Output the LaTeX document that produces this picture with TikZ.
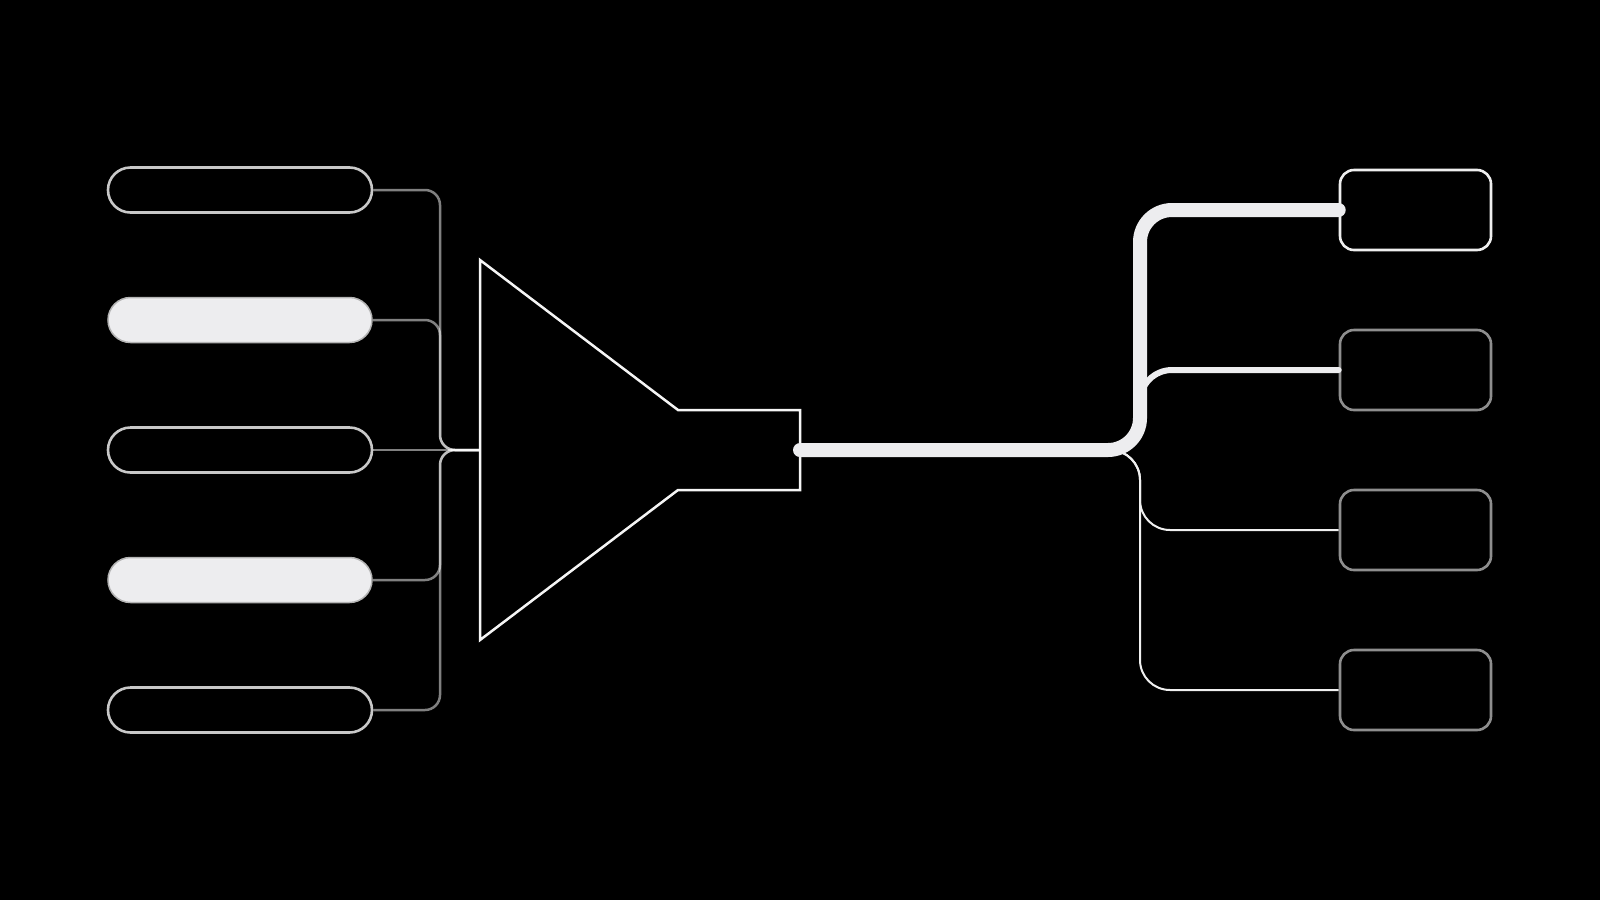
\documentclass[tikz,border=0pt]{standalone}
\definecolor{pillline}{HTML}{C8C8C8}
\definecolor{pillfill}{HTML}{EDEDEF}
\definecolor{pillfillline}{HTML}{B4B4B4}
\definecolor{thickc}{HTML}{EDEDEF}
\definecolor{boxgray}{HTML}{8E8E8E}
\definecolor{boxlight}{HTML}{EEEEEE}
\begin{document}
\begin{tikzpicture}[x=1pt,y=-1pt,
  pill/.style={draw=pillline,line width=2.6pt,rounded corners=22.5pt,minimum width=264pt,minimum height=45pt,inner sep=0pt},
  pillon/.style={pill,draw=pillfillline,line width=1.5pt,fill=pillfill},
  outbox/.style={draw=boxgray,line width=2.6pt,rounded corners=14pt,minimum width=151pt,minimum height=80pt,inner sep=0pt},
  outboxon/.style={outbox,draw=boxlight},
  conn/.style={draw=white,draw opacity=0.5,line width=2.5pt,rounded corners=15pt},
  funnelline/.style={draw=white!96!black,line width=2.5pt,line join=miter},
  mainflow/.style={draw=thickc,line width=14pt,line cap=round,rounded corners=32pt},
  midflow/.style={draw=thickc,line width=6pt,line cap=round,rounded corners=32pt},
  thinflow/.style={draw=white!94!black,line width=2pt,rounded corners=30pt}
]
\useasboundingbox (0,0) rectangle (1600,900);
\fill[black] (0,0) rectangle (1600,900);

% inputs
\node[pill]   (p1) at (240,190) {};
\node[pillon] (p2) at (240,320) {};
\node[pill]   (p3) at (240,450) {};
\node[pillon] (p4) at (240,580) {};
\node[pill]   (p5) at (240,710) {};

% outputs
\node[outboxon] (b1) at (1415.5,210) {};
\node[outbox]   (b2) at (1415.5,370) {};
\node[outbox]   (b3) at (1415.5,530) {};
\node[outbox]   (b4) at (1415.5,690) {};

\coordinate (in) at (480,450);
\coordinate (out) at (800,450);
\coordinate (bus) at (440,450);

% funnel
\draw[funnelline] (480,260) -- (678,410) -- (800,410) -- (800,490) -- (678,490) -- (480,640) -- cycle;

% input connectors
\foreach \p in {p1,p2,p4,p5}{
  \draw[conn] (\p.east) -| (bus) -- (in);
}
\draw[conn] (p3.east) -- (in);

% thin lower branches
\draw[thinflow] (1110,450) -- (1140,450) -- (1140,530) -- (b3.west);
\draw[thinflow] (1110,450) -- (1140,450) -- (1140,690) -- (b4.west);

% middle branch
\draw[midflow] (1140,415) -- (1140,370) -- (b2.west);

% main flow
\draw[mainflow] (out) -- (1140,450) -- (1140,210) -- (b1.west);
\end{tikzpicture}
\end{document}
